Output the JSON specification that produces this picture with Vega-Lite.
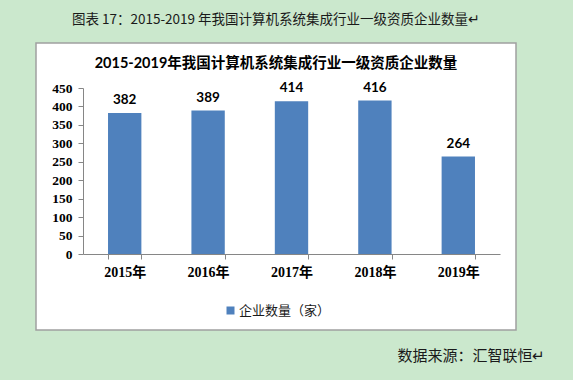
{
  "$schema": "https://vega.github.io/schema/vega-lite/v6.json",
  "width": 480,
  "height": 287,
  "autosize": {"type": "none"},
  "padding": {"left": 36, "top": 43, "right": 57, "bottom": 50},
  "background": "#cbe8cd",
  "config": {
    "view": {"fill": "white", "stroke": "#a0a0a0", "strokeWidth": 1.5},
    "font": "Lato, Noto Sans CJK SC"
  },
  "title": {
    "text": "图表 17：2015-2019 年我国计算机系统集成行业一级资质企业数量↵",
    "subtitle": "2015-2019年我国计算机系统集成行业一级资质企业数量",
    "anchor": "middle",
    "frame": "group",
    "offset": -27,
    "subtitlePadding": 30,
    "font": "Noto Sans CJK SC",
    "fontSize": 13.5,
    "fontWeight": "normal",
    "color": "#1a1a1a",
    "subtitleFont": "Lato, Noto Sans CJK SC",
    "subtitleFontSize": 14.5,
    "subtitleFontWeight": "bold",
    "subtitleColor": "#000000"
  },
  "data": {
    "values": [
      {"year": "2015年", "value": 382, "series": "企业数量（家）"},
      {"year": "2016年", "value": 389, "series": "企业数量（家）"},
      {"year": "2017年", "value": 414, "series": "企业数量（家）"},
      {"year": "2018年", "value": 416, "series": "企业数量（家）"},
      {"year": "2019年", "value": 264, "series": "企业数量（家）"}
    ]
  },
  "layer": [
    {
      "mark": {"type": "bar"},
      "encoding": {
        "x": {
          "field": "year", "type": "nominal", "sort": null,
          "scale": {"range": [47, 464], "paddingInner": 0.6, "paddingOuter": 0.3},
          "axis": {
            "orient": "bottom", "offset": -76, "title": null, "labelAngle": 0,
            "labelFont": "Liberation Serif, Noto Sans CJK SC", "labelFontSize": 14, "labelFontWeight": "bold",
            "labelColor": "#000000", "labelPadding": 6,
            "domainColor": "#868686", "tickColor": "#868686", "tickSize": 5, "tickBand": "extent"
          }
        },
        "y": {
          "field": "value", "type": "quantitative",
          "scale": {"domain": [0, 450], "range": [211, 45], "nice": false},
          "axis": {
            "orient": "left", "offset": -47, "title": null, "grid": false,
            "values": [0, 50, 100, 150, 200, 250, 300, 350, 400, 450],
            "labelFont": "Liberation Serif", "labelFontSize": 13.5, "labelFontWeight": "bold", "labelColor": "#000000",
            "labelPadding": 6, "tickSize": 5, "domainColor": "#868686", "tickColor": "#868686"
          }
        },
        "color": {
          "field": "series", "type": "nominal",
          "scale": {"range": ["#4f81bd"]},
          "legend": {
            "orient": "none", "legendX": 188, "legendY": 261, "title": null,
            "symbolType": "square", "symbolSize": 64, "symbolStrokeWidth": 0,
            "labelFont": "Noto Sans CJK SC", "labelFontSize": 13, "labelColor": "#1a1a1a", "labelOffset": 2
          }
        }
      }
    },
    {
      "mark": {"type": "text", "baseline": "bottom", "dy": -6, "font": "Lato", "fontSize": 13.5, "fontWeight": "bold", "color": "#000000"},
      "encoding": {
        "x": {
          "field": "year", "type": "nominal", "sort": null,
          "scale": {"range": [47, 464], "paddingInner": 0.6, "paddingOuter": 0.3},
          "axis": {
            "orient": "bottom", "offset": 0, "domain": false, "ticks": false, "labels": false,
            "title": "数据来源：汇智联恒↵", "titleFont": "Noto Sans CJK SC", "titleFontSize": 15,
            "titleFontWeight": "normal", "titleColor": "#1a1a1a",
            "titleX": 509, "titleY": 25, "titleAlign": "right", "titleBaseline": "middle", "titleAnchor": null
          }
        },
        "y": {
          "field": "value", "type": "quantitative",
          "scale": {"domain": [0, 450], "range": [211, 45], "nice": false},
          "axis": null
        },
        "text": {"field": "value", "type": "quantitative"}
      }
    }
  ],
  "resolve": {"axis": {"x": "independent", "y": "independent"}}
}
